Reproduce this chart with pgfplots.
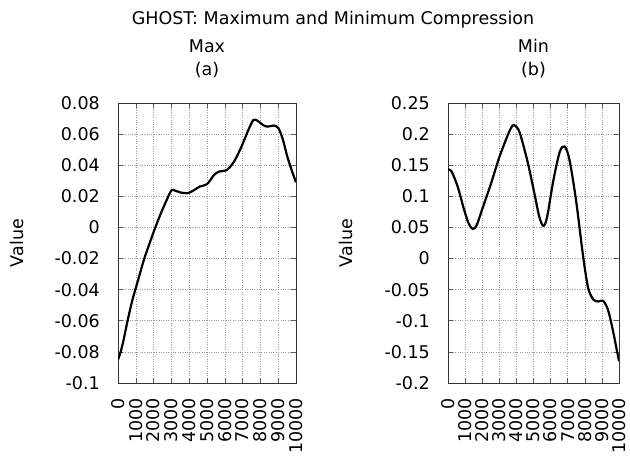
\documentclass[border=0pt]{standalone}
\usepackage{fontspec}
\setmainfont{DejaVu Sans}
\usepackage{pgfplots}
\pgfplotsset{compat=1.18}
\pgfplotstableread{
x y
0 -0.085
150 -0.080
320 -0.072
500 -0.062
800 -0.047
1100 -0.035
1450 -0.021
1750 -0.011
2000 -0.003
2370 0.008
2750 0.018
3000 0.0238
3200 0.0237
3500 0.0225
3900 0.0220
4200 0.0235
4600 0.0263
5000 0.0278
5400 0.0338
5700 0.0360
6100 0.0368
6500 0.0420
6900 0.0510
7300 0.0620
7600 0.0690
7850 0.0685
8150 0.0658
8400 0.0648
8750 0.0655
9000 0.0640
9250 0.0570
9500 0.0460
9750 0.0370
10000 0.029
}\maxdata
\pgfplotstableread{
x y
0 0.142
190 0.141
560 0.116
935 0.079
1200 0.057
1440 0.0475
1680 0.054
2060 0.084
2520 0.121
2990 0.162
3460 0.196
3740 0.2125
3925 0.2136
4200 0.2018
4670 0.1536
5050 0.105
5330 0.068
5570 0.0525
5790 0.066
6170 0.127
6540 0.172
6820 0.180
7100 0.159
7480 0.095
7850 0.0143
8040 -0.023
8220 -0.050
8500 -0.066
8790 -0.069
9070 -0.068
9350 -0.082
9630 -0.114
10000 -0.165
}\mindata
\begin{document}
\fontsize{17.5bp}{20bp}\selectfont
\begin{tikzpicture}[x=1bp,y=1bp]
\path[use as bounding box] (0,0) rectangle (630,457);
\pgfplotsset{
  gp/.style={
    scale only axis, width=178bp, height=280bp,
    xmin=0, xmax=10000, scaled x ticks=false, scaled y ticks=false,
    xtick={0,1000,2000,3000,4000,5000,6000,7000,8000,9000,10000},
    xticklabels={0,1000,2000,3000,4000,5000,6000,7000,8000,9000,10000},
    grid=major, major grid style={dotted, gray!80, line width=0.6bp},
    tick align=inside, major tick length=5bp,
    tick style={gray!70!black, line width=0.6bp},
    axis line style={gray!40!black, line width=0.8bp},
    every axis/.append style={font=\fontsize{17.5bp}{20bp}\selectfont},
    xticklabel style={rotate=90, anchor=east, inner sep=0pt},
    xticklabel shift=15bp,
    yticklabel style={anchor=east, inner sep=0pt},
    yticklabel shift=18bp,
    title style={align=center, at={(axis description cs:0.5,1)}, anchor=south, inner sep=0pt, yshift=19bp, font=\fontsize{17.5bp}{23bp}\selectfont},
    ylabel=Value,
  }
}
\begin{axis}[gp, at={(118bp,74bp)}, anchor=south west,
  ymin=-0.1, ymax=0.08,
  ytick={-0.1,-0.08,-0.06,-0.04,-0.02,0,0.02,0.04,0.06,0.08},
  yticklabels={-0.1,-0.08,-0.06,-0.04,-0.02,0,0.02,0.04,0.06,0.08},
  title={Max\\(a)},
  ylabel style={at={(axis description cs:-0.569,0.5)}, anchor=center},
]
\addplot[black, line width=2.2bp, smooth] table[x=x,y=y] {\maxdata};
\end{axis}
\begin{axis}[gp, at={(448bp,74bp)}, anchor=south west, width=171bp,
  ymin=-0.2, ymax=0.25,
  ytick={-0.2,-0.15,-0.1,-0.05,0,0.05,0.1,0.15,0.2,0.25},
  yticklabels={-0.2,-0.15,-0.1,-0.05,0,0.05,0.1,0.15,0.2,0.25},
  title={Min\\(b)},
  ylabel style={at={(axis description cs:-0.595,0.5)}, anchor=center},
]
\addplot[black, line width=2.2bp, smooth] table[x=x,y=y] {\mindata};
\end{axis}
\node[anchor=base] at (333,432) {GHOST: Maximum and Minimum Compression};
\end{tikzpicture}
\end{document}
